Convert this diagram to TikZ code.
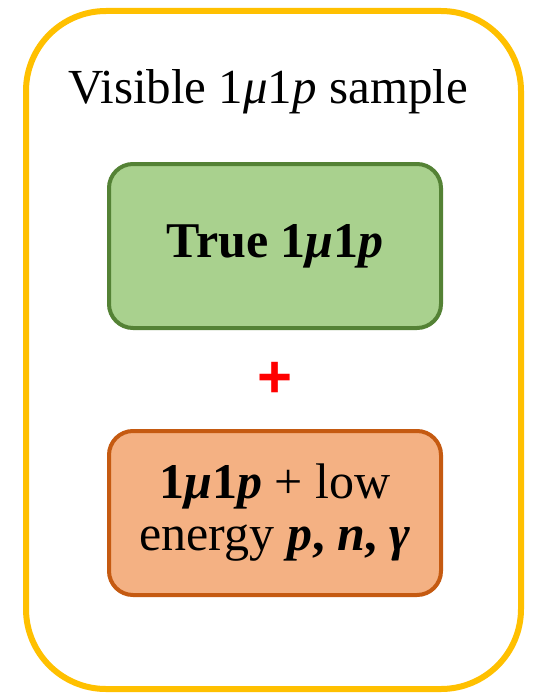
\documentclass[tikz,border=0pt]{standalone}
\usepackage{fontspec}
\setmainfont{Liberation Serif}
\newfontfamily\plusfont{Liberation Sans}
\definecolor{sampleGold}{HTML}{FFC000}
\definecolor{trueFill}{HTML}{A9D18E}
\definecolor{trueLine}{HTML}{548235}
\definecolor{extraFill}{HTML}{F4B183}
\definecolor{extraLine}{HTML}{C55A11}
\usetikzlibrary{positioning,calc}

\begin{document}
\begin{tikzpicture}[x=1pt, y=-1pt,
    samplebox/.style={draw=sampleGold, line width=6pt, rounded corners=80pt},
    classbox/.style={line width=4pt, rounded corners=24pt, minimum width=332pt,
      minimum height=164pt, align=center, font=\fontsize{50}{52}\selectfont}]
  \useasboundingbox (0,0) rectangle (536,693);
  % Outer sample box
  \draw[samplebox] (26,11) rectangle (521,689);
  % Title
  \node[font=\fontsize{49}{52}\selectfont] (visible) at (268,92)
    {Visible 1\textit{μ}1\textit{p} sample};
  % Components of the sample
  \node[classbox, draw=trueLine, fill=trueFill] (true) at (275,246)
    {\textbf{True 1\textit{μ}1\textit{p}}};
  \node[classbox, draw=extraLine, fill=extraFill, below=99pt of true] (extra)
    {\textbf{1\textit{μ}1\textit{p}} + low\\energy \textbf{\textit{p}, \textit{n}, \textit{γ}}};
  % Plus sign
  \node[red, inner sep=0pt, font=\plusfont\bfseries\fontsize{60}{60}\selectfont] (plus)
    at ($(true)!0.5!(extra)$) {+};
\end{tikzpicture}
\end{document}
